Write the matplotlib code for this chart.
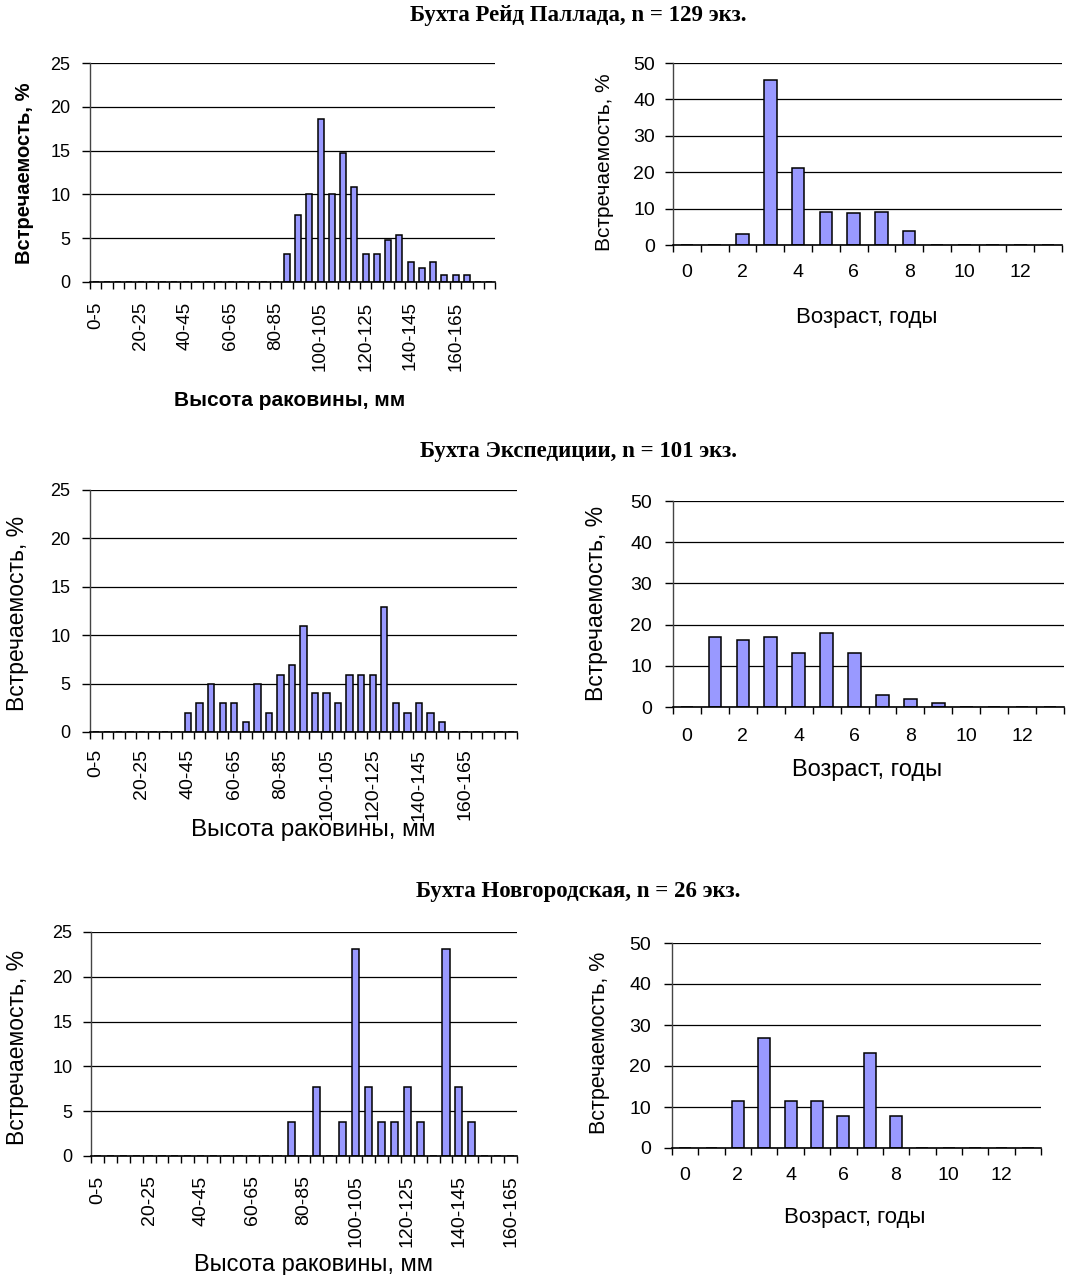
import matplotlib
matplotlib.use("Agg")
import matplotlib.pyplot as plt
from matplotlib.ticker import FixedLocator

plt.rcParams['font.family'] = ['Liberation Sans', 'DejaVu Sans']

W, H = 1066, 1275

# ---------------- data ----------------
size_labels = ["0-5", "5-10", "10-15", "15-20", "20-25", "25-30", "30-35", "35-40",
               "40-45", "45-50", "50-55", "55-60", "60-65", "65-70", "70-75", "75-80",
               "80-85", "85-90", "90-95", "95-100", "100-105", "105-110", "110-115",
               "115-120", "120-125", "125-130", "130-135", "135-140", "140-145",
               "145-150", "150-155", "155-160", "160-165", "165-170", "170-175",
               "175-180", "180-185"]
shown_size_labels = ["0-5", "20-25", "40-45", "60-65", "80-85", "100-105",
                     "120-125", "140-145", "160-165"]

# Бухта Рейд Паллада (36 classes)
size_pallada = [0, 0, 0, 0, 0, 0, 0, 0, 0, 0, 0, 0, 0, 0, 0, 0, 0,
                3.2, 7.7, 10.1, 18.6, 10.1, 14.7, 10.9, 3.2, 3.2, 4.8, 5.4,
                2.3, 1.6, 2.3, 0.8, 0.8, 0.8, 0, 0]
# Бухта Экспедиции (37 classes)
size_exped = [0, 0, 0, 0, 0, 0, 0, 0,
              2.0, 3.0, 5.0, 3.0, 3.0, 1.0, 5.0, 2.0, 5.9, 6.9, 10.9, 4.0, 4.0,
              3.0, 5.9, 5.9, 5.9, 12.9, 3.0, 2.0, 3.0, 2.0, 1.0,
              0, 0, 0, 0, 0, 0]
# Бухта Новгородская (33 classes)
size_novg = [0, 0, 0, 0, 0, 0, 0, 0, 0, 0, 0, 0, 0, 0, 0,
             3.8, 0, 7.7, 0, 3.8, 23.1, 7.7, 3.8, 3.8, 7.7, 3.8, 0, 23.1, 7.7, 3.8,
             0, 0, 0]

ages = [0, 1, 2, 3, 4, 5, 6, 7, 8, 9, 10, 11, 12, 13]
shown_ages = [0, 2, 4, 6, 8, 10, 12]
age_pallada = [0, 0, 2.9, 45.2, 21.2, 9.1, 8.7, 9.1, 3.8, 0, 0, 0, 0, 0]
age_exped = [0, 17.1, 16.2, 17.1, 13.1, 17.9, 13.1, 3.0, 2.0, 1.0, 0, 0, 0, 0]
age_novg = [0, 0, 11.5, 26.9, 11.5, 11.5, 7.7, 23.1, 7.7, 0, 0, 0, 0, 0]

titles = ["Бухта Рейд Паллада, n = 129 экз.",
          "Бухта Экспедиции, n = 101 экз.",
          "Бухта Новгородская, n = 26 экз."]
ylab = "Встречаемость, %"
xlab_size = "Высота раковины, мм"
xlab_age = "Возраст, годы"

BAR = '#9999FF'

fig = plt.figure(figsize=(W / 100, H / 100), dpi=100)


def rect(x0, y0, x1, y1):
    return [x0 / W, 1 - y1 / H, (x1 - x0) / W, (y1 - y0) / H]


def fx(x):
    return x / W


def fy(y):
    return 1 - y / H


def style(ax, ymax, ystep, ypad, xpad, yfs, xfs):
    ax.set_ylim(0, ymax)
    ax.set_yticks(list(range(0, ymax + 1, ystep)))
    ax.yaxis.grid(True, color='black', lw=0.9)
    ax.set_axisbelow(True)
    for s in ['top', 'right']:
        ax.spines[s].set_visible(False)
    ax.spines['left'].set_color('#444444')
    ax.spines['bottom'].set_color('black')
    ax.spines['left'].set_linewidth(1.0)
    ax.spines['bottom'].set_linewidth(1.2)
    ax.tick_params(axis='y', direction='out', length=6, width=1, pad=ypad, labelsize=yfs)
    ax.tick_params(axis='x', which='major', length=0, pad=xpad, labelsize=xfs)
    ax.tick_params(axis='x', which='minor', direction='out', length=5, width=1)


def size_panel(pos, vals, ypad, xpad, yfs, xfs):
    ax = fig.add_axes(pos)
    n = len(vals)
    x = list(range(n))
    ax.bar(x, vals, width=0.55, color=BAR, edgecolor='black', lw=1.1)
    ax.set_xlim(-0.5, n - 0.5)
    style(ax, 25, 5, ypad, xpad, yfs, xfs)
    major = [size_labels.index(s) for s in shown_size_labels]
    ax.xaxis.set_major_locator(FixedLocator(major))
    ax.set_xticklabels(shown_size_labels, rotation=90, va='top', ha='center')
    ax.xaxis.set_minor_locator(FixedLocator([i - 0.5 for i in range(n + 1)]))
    return ax


def age_panel(pos, vals, ypad, xpad, fs):
    ax = fig.add_axes(pos)
    ax.bar(ages, vals, width=0.45, color=BAR, edgecolor='black', lw=1.1)
    ax.set_xlim(-0.5, len(ages) - 0.5)
    style(ax, 50, 10, ypad, xpad, fs, fs)
    ax.xaxis.set_major_locator(FixedLocator(shown_ages))
    ax.set_xticklabels([str(a) for a in shown_ages])
    ax.xaxis.set_minor_locator(FixedLocator([a - 0.5 for a in ages] + [ages[-1] + 0.5]))
    return ax


# Row 1
size_panel(rect(90, 63, 495, 282), size_pallada, 8, 14, 13, 13.5)
age_panel(rect(673, 63, 1062, 245), age_pallada, 7, 14, 14)
# Row 2
size_panel(rect(90, 490, 517, 732), size_exped, 8, 12, 13, 14)
age_panel(rect(673, 501, 1064, 707), age_exped, 9, 15, 14)
# Row 3
size_panel(rect(91, 932, 517, 1156), size_novg, 7.5, 14, 13, 14)
age_panel(rect(672, 943, 1041, 1148), age_novg, 9, 14, 14)

# titles
for t, y in zip(titles, [16, 452, 891]):
    fig.text(fx(578), fy(y), t, ha='center', va='center', fontsize=16.5,
             fontweight='bold', family=['Liberation Serif', 'DejaVu Serif'])

# y labels
fig.text(fx(25), fy(173), ylab, rotation=90, ha='center', va='center', fontsize=14.5, fontweight='bold')
fig.text(fx(605), fy(162), ylab, rotation=90, ha='center', va='center', fontsize=15)
fig.text(fx(18), fy(613), ylab, rotation=90, ha='center', va='center', fontsize=16.5)
fig.text(fx(597), fy(603), ylab, rotation=90, ha='center', va='center', fontsize=16.5)
fig.text(fx(18), fy(1047), ylab, rotation=90, ha='center', va='center', fontsize=16.5)
fig.text(fx(600), fy(1043), ylab, rotation=90, ha='center', va='center', fontsize=15.5)

# x labels
fig.text(fx(290), fy(400), xlab_size, ha='center', va='center', fontsize=15, fontweight='bold')
fig.text(fx(313), fy(830), xlab_size, ha='center', va='center', fontsize=17.5)
fig.text(fx(313), fy(1265), xlab_size, ha='center', va='center', fontsize=17)
fig.text(fx(867), fy(317), xlab_age, ha='center', va='center', fontsize=16)
fig.text(fx(867), fy(770), xlab_age, ha='center', va='center', fontsize=17)
fig.text(fx(855), fy(1218), xlab_age, ha='center', va='center', fontsize=16)

fig.savefig("out.png", dpi=100)
